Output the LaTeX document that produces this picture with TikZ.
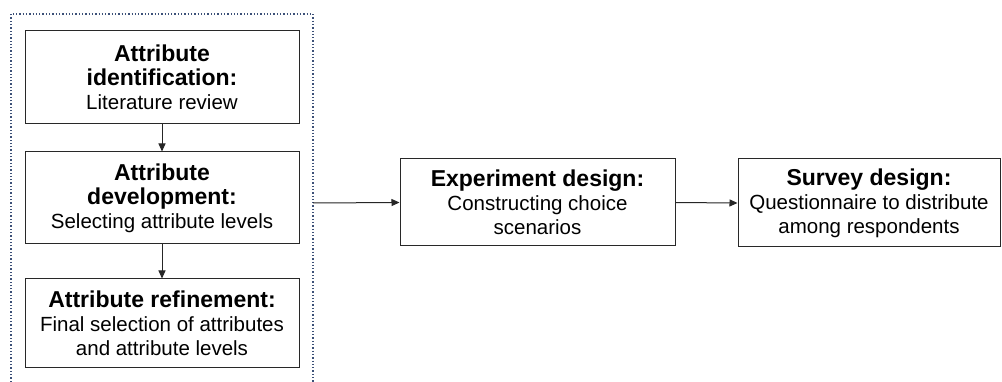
\documentclass[tikz,border=0pt]{standalone}
\usepackage{fontspec}
\setmainfont{Liberation Sans}
\usetikzlibrary{arrows.meta}
\definecolor{frameblue}{RGB}{60,80,120}
\definecolor{boxline}{RGB}{40,40,40}
\newcommand{\hd}[1]{{\fontsize{23}{27}\selectfont\bfseries #1}}
\begin{document}
\begin{tikzpicture}[x=1pt,y=-1pt,
  stepbox/.style={draw=boxline,line width=1pt,fill=white,align=center,inner sep=0pt,
    font=\fontsize{20.5}{24}\selectfont,text=black},
  conn/.style={line width=1pt,draw=black!85,-{Triangle[length=8pt,width=7pt]}}]
\useasboundingbox (0,0) rectangle (1002,382);
\clip (0,0) rectangle (1002,382);
\fill[white] (0,0) rectangle (1002,382);
\draw[frameblue,line width=1.3pt,dotted] (11,395) -- (11,14) -- (313,14) -- (313,395);
\node[stepbox,minimum width=274pt,minimum height=93pt] (a1) at (162,77.5)
  {\hd{Attribute}\\\hd{identification:}\\Literature review};
\node[stepbox,minimum width=274pt,minimum height=92pt] (a2) at (162,198)
  {\hd{Attribute}\\\hd{development:}\\Selecting attribute levels};
\node[stepbox,minimum width=274pt,minimum height=88pt] (a3) at (162,323)
  {\hd{Attribute refinement:}\\Final selection of attributes\\and attribute levels};
\node[stepbox,minimum width=275pt,minimum height=87pt] (exp) at (537.5,202.5)
  {\hd{Experiment design:}\\Constructing choice\\scenarios};
\node[stepbox,minimum width=262pt,minimum height=88pt] (sur) at (869,203)
  {\hd{Survey design:}\\Questionnaire to distribute\\among respondents};
\coordinate (fr) at (313,203);
\draw[conn] (a1.south) -- (a2.north);
\draw[conn] (a2.south) -- (a3.north);
\draw[conn] (fr) -- (exp.west);
\draw[conn] (exp.east) -- (sur.west);
\end{tikzpicture}
\end{document}
